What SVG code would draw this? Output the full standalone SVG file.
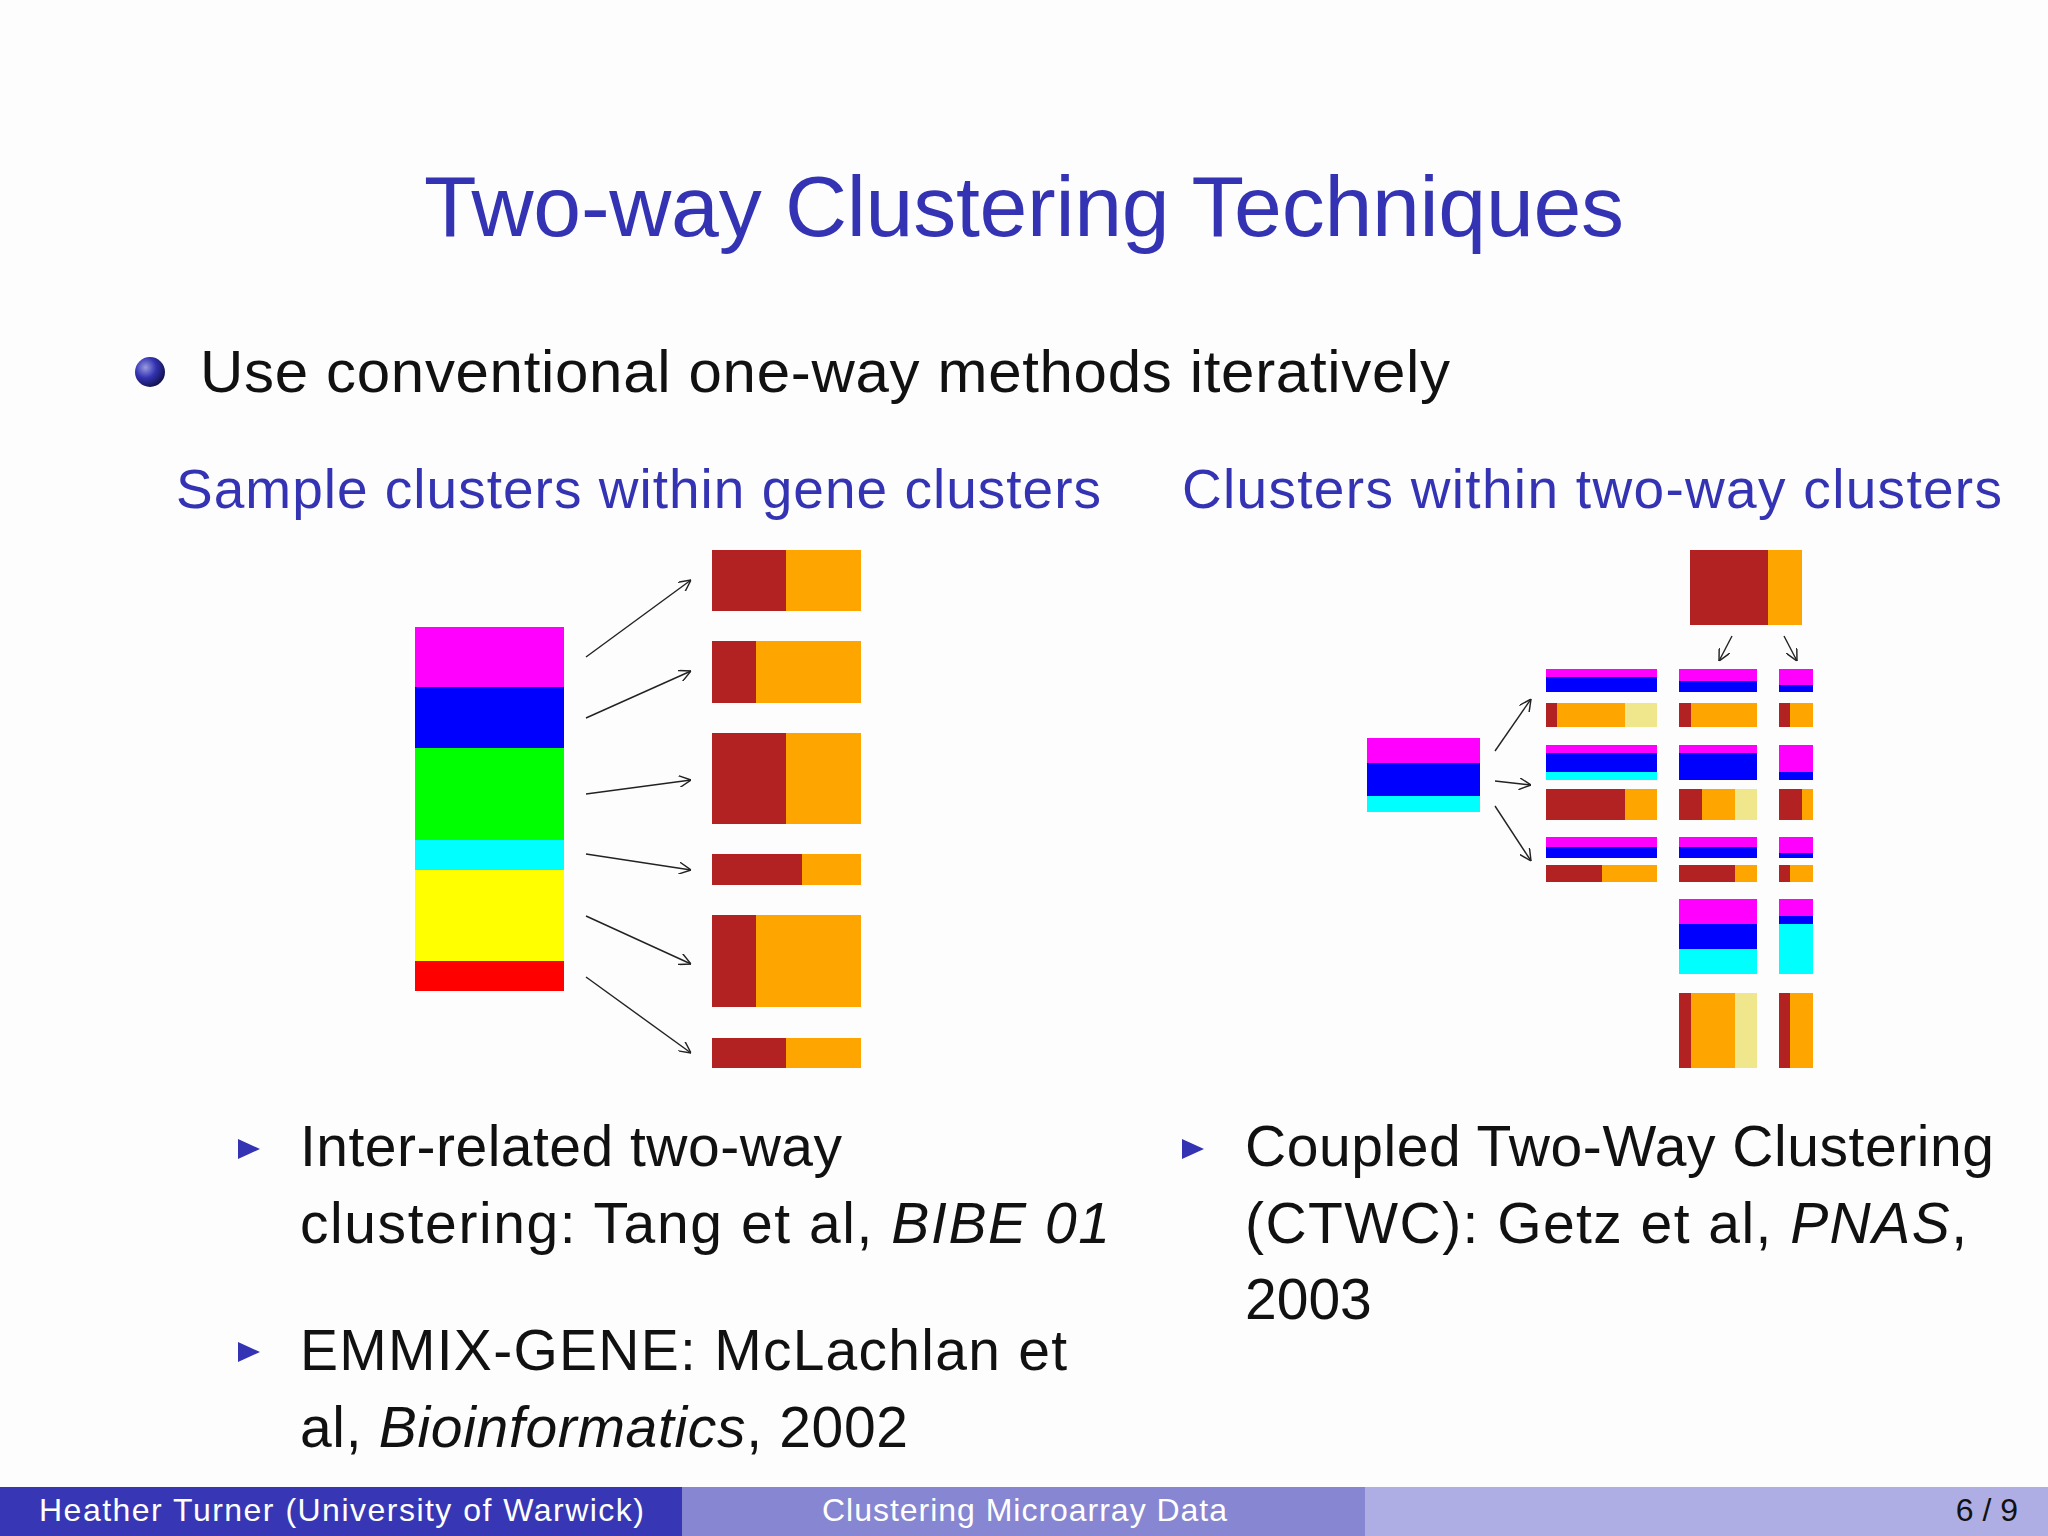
<svg xmlns="http://www.w3.org/2000/svg" width="2048" height="1536" viewBox="0 0 2048 1536">
<defs>
<marker id="ah" viewBox="0 0 10 10" refX="10" refY="5" markerWidth="12" markerHeight="12" markerUnits="userSpaceOnUse" orient="auto"><path d="M0,0 L10,5 L0,10" fill="none" stroke="#222" stroke-width="1.2"/></marker>
<radialGradient id="ball" cx="0.35" cy="0.35" r="0.7"><stop offset="0" stop-color="#9a9ae0"/><stop offset="0.5" stop-color="#3333b3"/><stop offset="1" stop-color="#10104a"/></radialGradient>
</defs>
<style>
.t{font-family:"Liberation Sans","DejaVu Sans",sans-serif}
.blue{fill:#3333b3}
.blk{fill:#111}
.ln{stroke:#222;stroke-width:1.4;fill:none;marker-end:url(#ah)}
</style>
<rect width="2048" height="1536" fill="#fdfdfd"/>
<text class="t blue" x="424" y="236" font-size="86" textLength="1200">Two-way Clustering Techniques</text>
<circle cx="150" cy="372" r="15" fill="url(#ball)"/>
<text class="t blk" x="200" y="392" font-size="60" textLength="1250">Use conventional one-way methods iteratively</text>
<text class="t blue" x="176" y="508" font-size="55" textLength="925">Sample clusters within gene clusters</text>
<text class="t blue" x="1182" y="508" font-size="55" textLength="820">Clusters within two-way clusters</text>

<g id="left-stack">
<rect x="415" y="627" width="149" height="60" fill="#ff00ff"/>
<rect x="415" y="687" width="149" height="61" fill="#0000ff"/>
<rect x="415" y="748" width="149" height="92" fill="#00ff00"/>
<rect x="415" y="840" width="149" height="30" fill="#00ffff"/>
<rect x="415" y="870" width="149" height="91" fill="#ffff00"/>
<rect x="415" y="961" width="149" height="30" fill="#ff0000"/>
</g>
<g id="left-bars">
<rect x="712" y="550" width="149" height="61" fill="#ffa500"/><rect x="712" y="550" width="74" height="61" fill="#b22222"/>
<rect x="712" y="641" width="149" height="62" fill="#ffa500"/><rect x="712" y="641" width="44" height="62" fill="#b22222"/>
<rect x="712" y="733" width="149" height="91" fill="#ffa500"/><rect x="712" y="733" width="74" height="91" fill="#b22222"/>
<rect x="712" y="854" width="149" height="31" fill="#ffa500"/><rect x="712" y="854" width="90" height="31" fill="#b22222"/>
<rect x="712" y="915" width="149" height="92" fill="#ffa500"/><rect x="712" y="915" width="44" height="92" fill="#b22222"/>
<rect x="712" y="1038" width="149" height="30" fill="#ffa500"/><rect x="712" y="1038" width="74" height="30" fill="#b22222"/>
</g>

<g id="right-left-box">
<rect x="1367" y="738" width="113" height="25" fill="#ff00ff"/>
<rect x="1367" y="763" width="113" height="33" fill="#0000ff"/>
<rect x="1367" y="796" width="113" height="16" fill="#00ffff"/>
</g>
<g id="right-top-box">
<rect x="1690" y="550" width="112" height="75" fill="#ffa500"/><rect x="1690" y="550" width="78" height="75" fill="#b22222"/>
</g>
<g id="right-grid">
<rect x="1546" y="669" width="111" height="23" fill="#0000ff"/><rect x="1546" y="669" width="111" height="8" fill="#ff00ff"/>
<rect x="1679" y="669" width="78" height="23" fill="#0000ff"/><rect x="1679" y="669" width="78" height="12" fill="#ff00ff"/>
<rect x="1779" y="669" width="34" height="23" fill="#0000ff"/><rect x="1779" y="669" width="34" height="16" fill="#ff00ff"/>
<rect x="1546" y="703" width="111" height="24" fill="#f0e68c"/><rect x="1546" y="703" width="79" height="24" fill="#ffa500"/><rect x="1546" y="703" width="11" height="24" fill="#b22222"/>
<rect x="1679" y="703" width="78" height="24" fill="#ffa500"/><rect x="1679" y="703" width="12" height="24" fill="#b22222"/>
<rect x="1779" y="703" width="34" height="24" fill="#ffa500"/><rect x="1779" y="703" width="11" height="24" fill="#b22222"/>
<rect x="1546" y="745" width="111" height="35" fill="#00ffff"/><rect x="1546" y="745" width="111" height="27" fill="#0000ff"/><rect x="1546" y="745" width="111" height="8" fill="#ff00ff"/>
<rect x="1679" y="745" width="78" height="35" fill="#0000ff"/><rect x="1679" y="745" width="78" height="8" fill="#ff00ff"/>
<rect x="1779" y="745" width="34" height="35" fill="#0000ff"/><rect x="1779" y="745" width="34" height="27" fill="#ff00ff"/>
<rect x="1546" y="789" width="111" height="31" fill="#ffa500"/><rect x="1546" y="789" width="79" height="31" fill="#b22222"/>
<rect x="1679" y="789" width="78" height="31" fill="#f0e68c"/><rect x="1679" y="789" width="56" height="31" fill="#ffa500"/><rect x="1679" y="789" width="23" height="31" fill="#b22222"/>
<rect x="1779" y="789" width="34" height="31" fill="#ffa500"/><rect x="1779" y="789" width="23" height="31" fill="#b22222"/>
<rect x="1546" y="837" width="111" height="21" fill="#0000ff"/><rect x="1546" y="837" width="111" height="10" fill="#ff00ff"/>
<rect x="1679" y="837" width="78" height="21" fill="#0000ff"/><rect x="1679" y="837" width="78" height="10" fill="#ff00ff"/>
<rect x="1779" y="837" width="34" height="21" fill="#0000ff"/><rect x="1779" y="837" width="34" height="16" fill="#ff00ff"/>
<rect x="1546" y="865" width="111" height="17" fill="#ffa500"/><rect x="1546" y="865" width="56" height="17" fill="#b22222"/>
<rect x="1679" y="865" width="78" height="17" fill="#ffa500"/><rect x="1679" y="865" width="56" height="17" fill="#b22222"/>
<rect x="1779" y="865" width="34" height="17" fill="#ffa500"/><rect x="1779" y="865" width="11" height="17" fill="#b22222"/>
<rect x="1679" y="899" width="78" height="75" fill="#00ffff"/><rect x="1679" y="899" width="78" height="50" fill="#0000ff"/><rect x="1679" y="899" width="78" height="25" fill="#ff00ff"/>
<rect x="1779" y="899" width="34" height="75" fill="#00ffff"/><rect x="1779" y="899" width="34" height="25" fill="#0000ff"/><rect x="1779" y="899" width="34" height="17" fill="#ff00ff"/>
<rect x="1679" y="993" width="78" height="75" fill="#f0e68c"/><rect x="1679" y="993" width="56" height="75" fill="#ffa500"/><rect x="1679" y="993" width="12" height="75" fill="#b22222"/>
<rect x="1779" y="993" width="34" height="75" fill="#ffa500"/><rect x="1779" y="993" width="11" height="75" fill="#b22222"/>
</g>

<g id="connectors">
<line class="ln" x1="586" y1="657" x2="691" y2="580"/>
<line class="ln" x1="586" y1="718" x2="691" y2="671"/>
<line class="ln" x1="586" y1="794" x2="691" y2="780"/>
<line class="ln" x1="586" y1="854" x2="691" y2="870"/>
<line class="ln" x1="586" y1="916" x2="691" y2="964"/>
<line class="ln" x1="586" y1="977" x2="691" y2="1053"/>
<line class="ln" x1="1495" y1="751" x2="1531" y2="699"/>
<line class="ln" x1="1495" y1="781" x2="1531" y2="785"/>
<line class="ln" x1="1495" y1="806" x2="1531" y2="861"/>
<line class="ln" x1="1732" y1="636" x2="1719" y2="661"/>
<line class="ln" x1="1784" y1="636" x2="1797" y2="661"/>
</g>

<g class="t blk" font-size="57">
<path d="M238,1139 L260,1149 L238,1159 Z" fill="#3333b3"/>
<text x="300" y="1166" textLength="542">Inter-related two-way</text>
<text x="300" y="1243" textLength="810">clustering:  Tang et al, <tspan font-style="italic">BIBE 01</tspan></text>
<path d="M238,1342 L260,1352 L238,1362 Z" fill="#3333b3"/>
<text x="300" y="1370" textLength="767">EMMIX-GENE: McLachlan et</text>
<text x="300" y="1447" textLength="608">al, <tspan font-style="italic">Bioinformatics</tspan>, 2002</text>
<path d="M1182,1139 L1204,1149 L1182,1159 Z" fill="#3333b3"/>
<text x="1245" y="1166" textLength="749">Coupled Two-Way Clustering</text>
<text x="1245" y="1243" textLength="722">(CTWC): Getz et al, <tspan font-style="italic">PNAS</tspan>,</text>
<text x="1245" y="1319">2003</text>
</g>

<g id="footer">
<rect x="0" y="1487" width="682" height="49" fill="#3737b5"/>
<rect x="682" y="1487" width="683" height="49" fill="#8686d2"/>
<rect x="1365" y="1487" width="683" height="49" fill="#aeaee4"/>
<text class="t" x="39" y="1521" font-size="32" fill="#fff" textLength="605">Heather Turner  (University of Warwick)</text>
<text class="t" x="822" y="1521" font-size="32" fill="#fff" textLength="405">Clustering Microarray Data</text>
<text class="t" x="2018" y="1521" font-size="32" fill="#111" text-anchor="end">6 / 9</text>
</g>
</svg>
